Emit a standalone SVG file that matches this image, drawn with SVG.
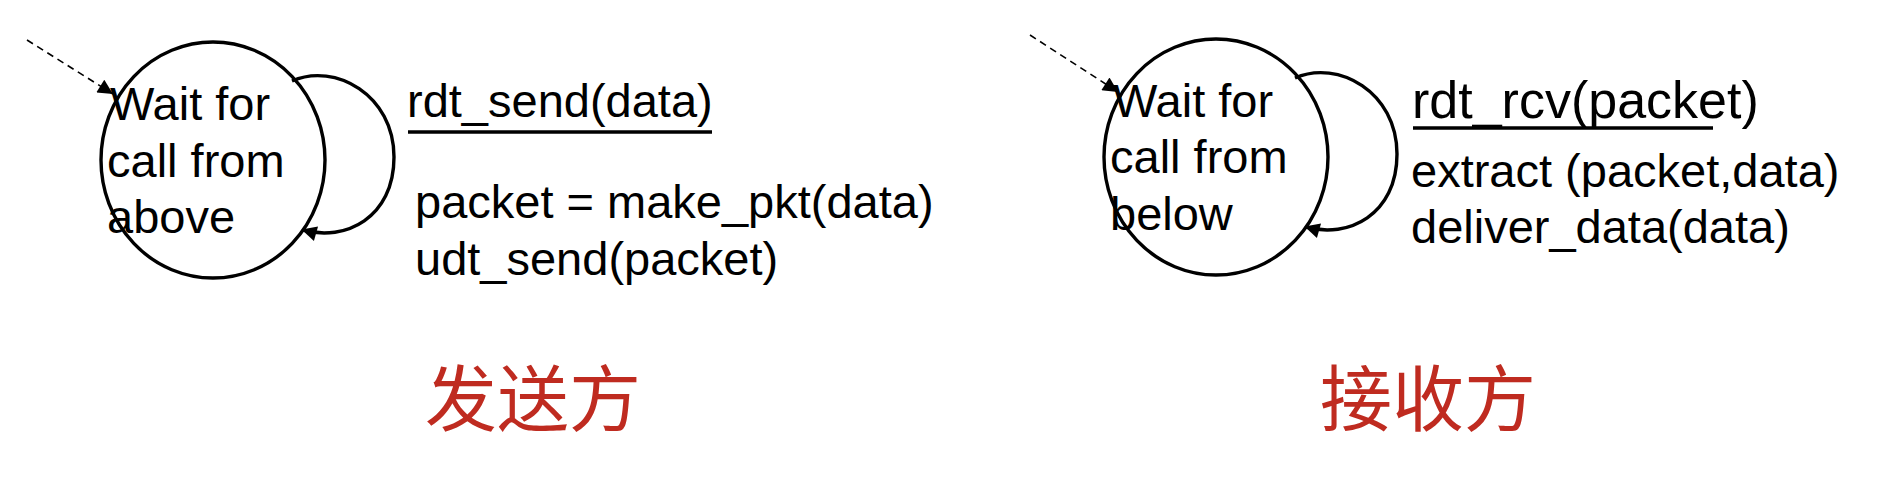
<svg xmlns="http://www.w3.org/2000/svg" width="1880" height="478" viewBox="0 0 1880 478">
<defs>
<style>
.st{fill:none;stroke:#000;stroke-width:3.4}
.init{fill:none;stroke:#000;stroke-width:1.6;stroke-dasharray:7 5}
.t{font-family:"Liberation Sans",Arial,sans-serif;font-size:47px;fill:#000}
.big{font-size:52px}
.ul{stroke:#000;stroke-width:3.5}
.cn{font-family:"Noto Sans CJK SC","Noto Sans",sans-serif;font-size:72px;fill:#BF2B20}
</style>
<marker id="ah" viewBox="0 0 10 10" refX="9" refY="5" markerWidth="17" markerHeight="15" markerUnits="userSpaceOnUse" orient="auto">
<path d="M0,0 L10,5 L0,10 z" fill="#000"/>
</marker>
<marker id="ah2" viewBox="0 0 10 10" refX="10" refY="5" markerWidth="17" markerHeight="15" markerUnits="userSpaceOnUse" orient="auto">
<path d="M0,0 L10,5 L0,10 z" fill="#000"/>
</marker>
</defs>
<rect width="1880" height="478" fill="#fff"/>

<g id="sender-state">
<ellipse class="st" cx="213" cy="160" rx="112" ry="118"/>
<text class="t" x="110" y="120">Wait for</text>
<text class="t" x="107" y="177">call from</text>
<text class="t" x="107" y="233">above</text>
</g>

<g id="receiver-state">
<ellipse class="st" cx="1216" cy="157" rx="112" ry="118"/>
<text class="t" x="1113" y="117">Wait for</text>
<text class="t" x="1110" y="173">call from</text>
<text class="t" x="1110" y="230">below</text>
</g>

<g id="connectors">
<line class="init" x1="27" y1="40" x2="113" y2="94" marker-end="url(#ah2)"/>
<path class="st" d="M292,81 C335,62 394,95 394,157 C394,218 345,242 303,230" marker-end="url(#ah)"/>
<line class="init" x1="1030" y1="35" x2="1118" y2="92" marker-end="url(#ah2)"/>
<path class="st" d="M1295,78 C1338,59 1397,92 1397,154 C1397,215 1348,239 1306,227" marker-end="url(#ah)"/>
</g>

<g id="sender-transition">
<text class="t" x="407" y="117">rdt_send(data)</text>
<line class="ul" x1="408" y1="132" x2="712" y2="132"/>
<text class="t" x="415" y="218">packet = make_pkt(data)</text>
<text class="t" x="415" y="275">udt_send(packet)</text>
</g>

<g id="receiver-transition">
<text class="t big" x="1412" y="118">rdt_rcv(packet)</text>
<line class="ul" x1="1413" y1="128" x2="1713" y2="128"/>
<text class="t" x="1411" y="187">extract (packet,data)</text>
<text class="t" x="1411" y="243">deliver_data(data)</text>
</g>

<g id="labels">
<text class="cn" x="425" y="425">发送方</text>
<text class="cn" x="1320" y="425">接收方</text>
</g>
</svg>
